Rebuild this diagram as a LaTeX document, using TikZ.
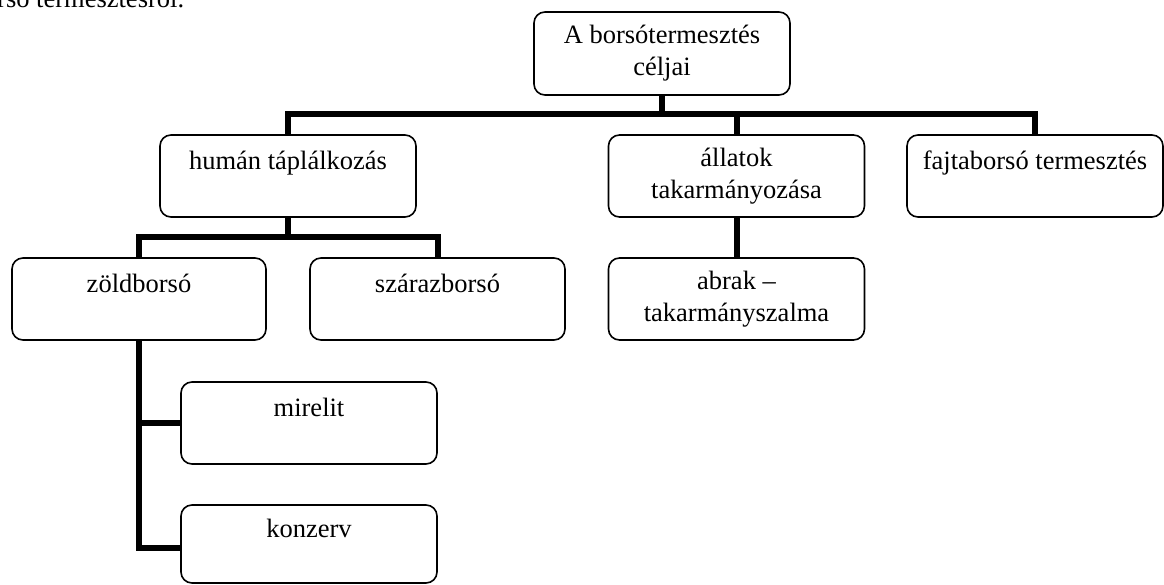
\documentclass[tikz,border=0pt]{standalone}
\usepackage{fontspec}
\setmainfont{Liberation Serif}
\begin{document}
\begin{tikzpicture}[x=1pt,y=-1pt,
  box/.style={draw=black, line width=1.6pt, rounded corners=11pt, inner sep=0pt,
    align=center, font=\fontsize{26.5}{32}\selectfont, minimum height=82pt, minimum width=256pt},
  conn/.style={draw=black, line width=6pt}]
\useasboundingbox (0,0) rectangle (1164,584);
\clip (0,0) rectangle (1164,584);
\fill[white] (0,0) rectangle (1164,584);
\node[anchor=base west, inner sep=0pt, font=\fontsize{26.5}{32}\selectfont] (head) at (-3,7) {rsó termesztésről.};
\node[box, minimum height=83pt] (top) at (662,53.5) {A borsótermesztés\\céljai};
\node[box] (human) at (288,176) {humán táplálkozás\\~};
\node[box] (allat) at (736.5,176) {állatok\\takarmányozása};
\node[box] (fajta) at (1035,176) {fajtaborsó termesztés\\~};
\node[box, minimum width=254pt] (zold) at (139,299) {zöldborsó\\~};
\node[box, minimum width=255pt] (szaraz) at (437.5,299) {szárazborsó\\~};
\node[box] (abrak) at (736.5,299) {abrak –\\takarmányszalma};
\node[box] (mirelit) at (309,423) {mirelit\\~};
\node[box, minimum height=78pt] (konzerv) at (309,544) {konzerv\\~};
\coordinate (bar1) at (0,114);
\coordinate (bar2) at (0,237);
\draw[conn] (top.south) -- (top.south |- bar1) -| (human.north);
\draw[conn] (top.south |- bar1) -| (allat.north);
\draw[conn] (top.south |- bar1) -| (fajta.north);
\draw[conn] (human.south) -- (human.south |- bar2) -| (zold.north);
\draw[conn] (human.south |- bar2) -| (szaraz.north);
\draw[conn] (allat.south) -- (abrak.north);
\draw[conn] (zold.south) |- ([yshift=-4pt]konzerv.west);
\draw[conn] (zold.south |- mirelit.west) -- (mirelit.west);
\end{tikzpicture}
\end{document}
